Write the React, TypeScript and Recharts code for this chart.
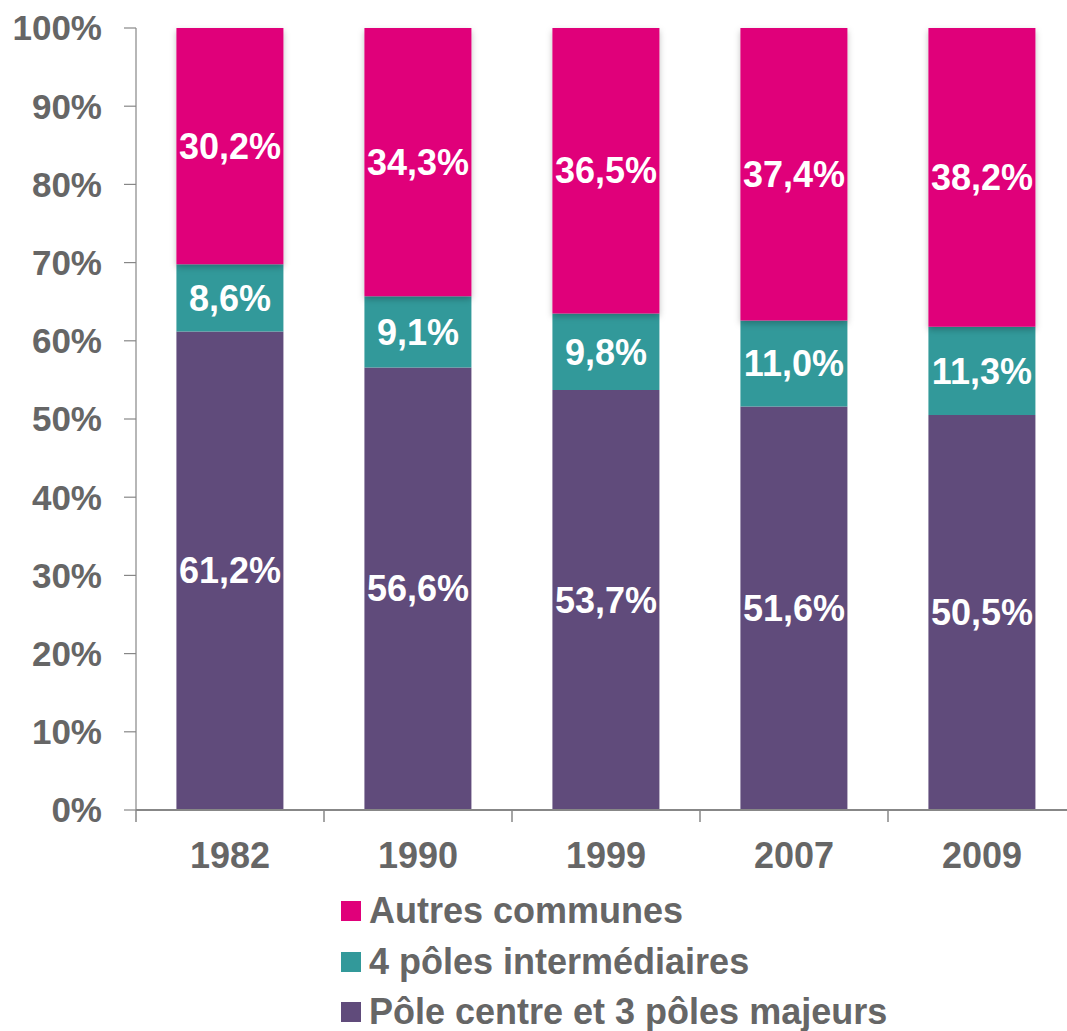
import React from 'react';
import { BarChart, Bar, XAxis, YAxis, Legend, LabelList } from 'recharts';

const years = ['1982', '1990', '1999', '2007', '2009'];
const poleCentre = [61.2, 56.6, 53.7, 51.6, 50.5];
const polesInter = [8.6, 9.1, 9.8, 11.0, 11.3];
const autres = [30.2, 34.3, 36.5, 37.4, 38.2];
const yTicks = [0, 10, 20, 30, 40, 50, 60, 70, 80, 90, 100];

const seriesNames = {
  centre: 'Pôle centre et 3 pôles majeurs',
  inter: '4 pôles intermédiaires',
  autres: 'Autres communes',
};
const legendOrder = [seriesNames.autres, seriesNames.inter, seriesNames.centre];

const data = years.map((y, i) => ({
  year: y,
  centre: poleCentre[i],
  inter: polesInter[i],
  autres: autres[i],
}));

const FONT = '"Liberation Sans", Arial, Helvetica, sans-serif';
const TEXT = '#666666';
const AXIS = '#878787';

const CHART_W = 1076;
const CHART_H = 1031;
const Y_W = 136;
const HALF_BAND = (CHART_W - Y_W) / years.length / 2;

const fmt = (v: any) => `${Number(v).toFixed(1).replace('.', ',')}%`;

const XTick = (props: any) => {
  const { x, y, payload, index } = props;
  return (
    <g>
      <line x1={x - HALF_BAND} y1={y} x2={x - HALF_BAND} y2={y + 12} stroke={AXIS} strokeWidth={1.5} />
      {index === years.length - 1 && (
        <line x1={x + HALF_BAND} y1={y} x2={x + HALF_BAND} y2={y + 12} stroke={AXIS} strokeWidth={1.5} />
      )}
      <text x={x} y={y + 58} textAnchor="middle" fill={TEXT} fontFamily={FONT} fontWeight="bold" fontSize={36}>
        {payload.value}
      </text>
    </g>
  );
};

const LegendContent = (props: any) => {
  const payload = props.payload || [];
  const items = legendOrder
    .map((name) => payload.find((p: any) => p.value === name))
    .filter(Boolean);
  return (
    <div style={{ fontFamily: FONT }}>
      {items.map((it: any) => (
        <div key={it.value} style={{ display: 'flex', alignItems: 'center', height: 50.5 }}>
          <div style={{ width: 20, height: 20, background: it.color, marginRight: 8 }} />
          <span style={{ color: TEXT, fontSize: 36, fontWeight: 'bold', whiteSpace: 'nowrap', lineHeight: '40px' }}>{it.value}</span>
        </div>
      ))}
    </div>
  );
};

const labelStyle = { fill: '#ffffff', fontFamily: FONT, fontWeight: 'bold' as const, fontSize: 36 };

export default function App() {
  return (
    <div style={{ position: 'absolute', left: 0, top: 0, width: 1067, height: 1031, overflow: 'hidden', background: '#fff' }}>
      <BarChart
        width={CHART_W}
        height={CHART_H}
        data={data}
        margin={{ top: 28, right: 0, left: 0, bottom: 141 }}
        barCategoryGap="21.5%"
      >
        <defs>
          <filter id="shadow" x="-20%" y="-20%" width="140%" height="140%">
            <feDropShadow dx="0" dy="3" stdDeviation="3" floodColor="#000" floodOpacity="0.25" />
          </filter>
        </defs>
        <XAxis
          dataKey="year"
          height={80}
          tickLine={false}
          tickSize={0}
          tickMargin={0}
          axisLine={{ stroke: AXIS, strokeWidth: 2 }}
          tick={<XTick />}
          interval={0}
        />
        <YAxis
          width={Y_W}
          domain={[0, 100]}
          ticks={yTicks}
          interval={0}
          tickFormatter={(v: number) => `${v}%`}
          tickSize={12}
          tickMargin={22}
          axisLine={{ stroke: AXIS, strokeWidth: 1.2 }}
          tickLine={{ stroke: AXIS, strokeWidth: 1.2 }}
          tick={{ fill: TEXT, fontFamily: FONT, fontWeight: 'bold', fontSize: 35 }}
        />
        <Legend
          layout="vertical"
          align="center"
          verticalAlign="middle"
          wrapperStyle={{ top: 886, left: 341, width: 'auto' }}
          content={<LegendContent />}
        />
        <Bar dataKey="centre" name={seriesNames.centre} stackId="a" fill="#604B7B" isAnimationActive={false}>
          <LabelList dataKey="centre" position="center" formatter={fmt} style={labelStyle} />
        </Bar>
        <Bar dataKey="inter" name={seriesNames.inter} stackId="a" fill="#32999A" isAnimationActive={false}>
          <LabelList dataKey="inter" position="center" formatter={fmt} style={labelStyle} />
        </Bar>
        <Bar dataKey="autres" name={seriesNames.autres} stackId="a" fill="#E0007A" filter="url(#shadow)" isAnimationActive={false}>
          <LabelList dataKey="autres" position="center" formatter={fmt} style={labelStyle} />
        </Bar>
      </BarChart>
    </div>
  );
}
